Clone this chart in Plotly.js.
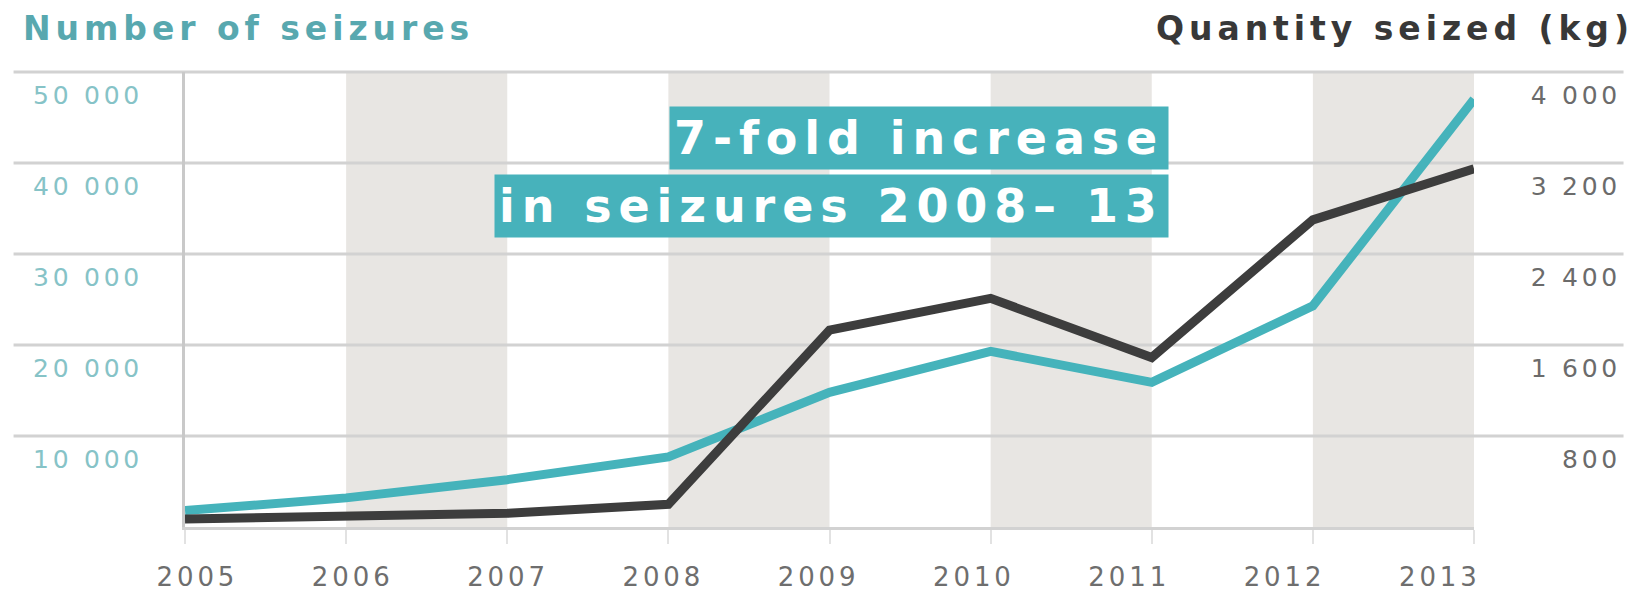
<!DOCTYPE html>
<html>
<head>
<meta charset="utf-8">
<script src="https://cdn.plot.ly/plotly-3.0.1.min.js"></script>
<style>
  html, body { margin: 0; padding: 0; background: #ffffff; }
  #chart { width: 1639px; height: 594px; }
  svg text { letter-spacing: 0.15em; }
</style>
</head>
<body>
<div id="chart"></div>
<script>
// ---- data ----
const years = [2005, 2006, 2007, 2008, 2009, 2010, 2011, 2012, 2013];
const seizures = [1800, 3200, 5200, 7700, 14800, 19300, 15900, 24300, 47000];
const quantityKg = [70, 100, 120, 200, 1730, 2010, 1490, 2700, 3150];

const leftTickVals = [10000, 20000, 30000, 40000, 50000];
const leftTickText = ['10 000', '20 000', '30 000', '40 000', '50 000'];
const rightTickVals = [800, 1600, 2400, 3200, 4000];
const rightTickText = ['800', '1 600', '2 400', '3 200', '4 000'];
const yearLabels = years.map(String);

const leftTitle = 'Number of seizures';
const rightTitle = 'Quantity seized (kg)';
const noteLine1 = '7-fold increase';
const noteLine2 = 'in seizures 2008\u2013 13';

// ---- styling ----
const FONT = 'DejaVu Sans, Liberation Sans, sans-serif';
const TEAL = '#45b3bb';
const DARK = '#3d3d3d';
const GRID = '#d2d2d2';
const BAND = '#e8e6e3';
const leftRange = [0, 50000];
const rightRange = [0, 4000];

// shaded alternate-year bands
const bandStarts = years.filter((y, i) => i % 2 === 1 && i < years.length - 1);
const shapes = bandStarts.map(y => ({
  type: 'rect', layer: 'below', xref: 'x', yref: 'paper',
  x0: y, x1: y + 1, y0: 0, y1: 1,
  fillcolor: BAND, line: {width: 0}
}));
// full-width horizontal gridlines
leftTickVals.forEach(v => {
  const f = (v - leftRange[0]) / (leftRange[1] - leftRange[0]);
  shapes.push({
    type: 'line', layer: 'below', xref: 'paper', yref: 'paper',
    x0: -0.133, x1: 1.116, y0: f, y1: f,
    line: {color: GRID, width: 3}
  });
});

const traces = [
  {
    x: years, y: seizures, type: 'scatter', mode: 'lines',
    line: {color: TEAL, width: 9}, name: leftTitle,
    xaxis: 'x', yaxis: 'y', hoverinfo: 'x+y'
  },
  {
    x: years, y: quantityKg, type: 'scatter', mode: 'lines',
    line: {color: DARK, width: 9}, name: rightTitle,
    xaxis: 'x', yaxis: 'y2', hoverinfo: 'x+y'
  },
  {
    x: years, y: seizures, type: 'scatter', mode: 'none',
    xaxis: 'x2', yaxis: 'y', hoverinfo: 'skip', showlegend: false
  }
];

const layout = {
  width: 1639, height: 594,
  margin: {l: 185, r: 165, t: 72, b: 67},
  paper_bgcolor: '#ffffff', plot_bgcolor: '#ffffff',
  showlegend: false,
  font: {family: FONT},
  xaxis: {
    range: [2005, 2013], showgrid: false, zeroline: false,
    showline: true, linecolor: GRID, linewidth: 3,
    ticks: 'outside', ticklen: 14, tickwidth: 2, tickcolor: '#e2e2e2',
    tickvals: years, showticklabels: false
  },
  xaxis2: {
    overlaying: 'x', anchor: 'y', side: 'bottom',
    range: [2004.92, 2013.22], showgrid: false, zeroline: false,
    showline: false, ticks: '',
    tickvals: years, ticktext: yearLabels,
    tickfont: {size: 26, color: '#6e6e6e', family: FONT},
    ticklabelstandoff: 32
  },
  yaxis: {
    range: leftRange, showgrid: false, zeroline: false,
    showline: true, linecolor: '#c9c9c9', linewidth: 3,
    ticks: '', tickvals: leftTickVals, ticktext: leftTickText,
    tickfont: {size: 25, color: '#86c3c7', family: FONT},
    ticklabelshift: 23, ticklabelstandoff: 34
  },
  yaxis2: {
    range: rightRange, overlaying: 'y', side: 'right', anchor: 'x',
    showgrid: false, zeroline: false, showline: false,
    ticks: '', tickvals: rightTickVals, ticktext: rightTickText,
    tickfont: {size: 25, color: '#6b6b6b', family: FONT},
    ticklabelposition: 'inside', ticklabeloverflow: 'allow',
    ticklabelshift: 23, ticklabelstandoff: -150
  },
  shapes: shapes,
  annotations: [
    {
      text: leftTitle, xref: 'paper', yref: 'paper',
      x: -0.127, y: 1.095, xanchor: 'left', yanchor: 'middle',
      showarrow: false, font: {size: 33, color: '#58a8af', family: FONT, weight: 'bold'}
    },
    {
      text: rightTitle, xref: 'paper', yref: 'paper',
      x: 1.126, y: 1.095, xanchor: 'right', yanchor: 'middle',
      showarrow: false, font: {size: 33, color: '#383838', family: FONT, weight: 'bold'}
    },
    {
      text: noteLine1, xref: 'paper', yref: 'paper',
      x: 0.7634, y: 0.856, xanchor: 'right', yanchor: 'middle',
      showarrow: false, bgcolor: '#47b2bb', borderpad: 4,
      font: {size: 46, color: '#ffffff', family: FONT, weight: 'bold'}
    },
    {
      text: noteLine2, xref: 'paper', yref: 'paper',
      x: 0.7634, y: 0.7044, xanchor: 'right', yanchor: 'middle',
      showarrow: false, bgcolor: '#47b2bb', borderpad: 4,
      font: {size: 46, color: '#ffffff', family: FONT, weight: 'bold'}
    }
  ]
};

Plotly.newPlot('chart', traces, layout, {displayModeBar: false});
</script>
</body>
</html>
